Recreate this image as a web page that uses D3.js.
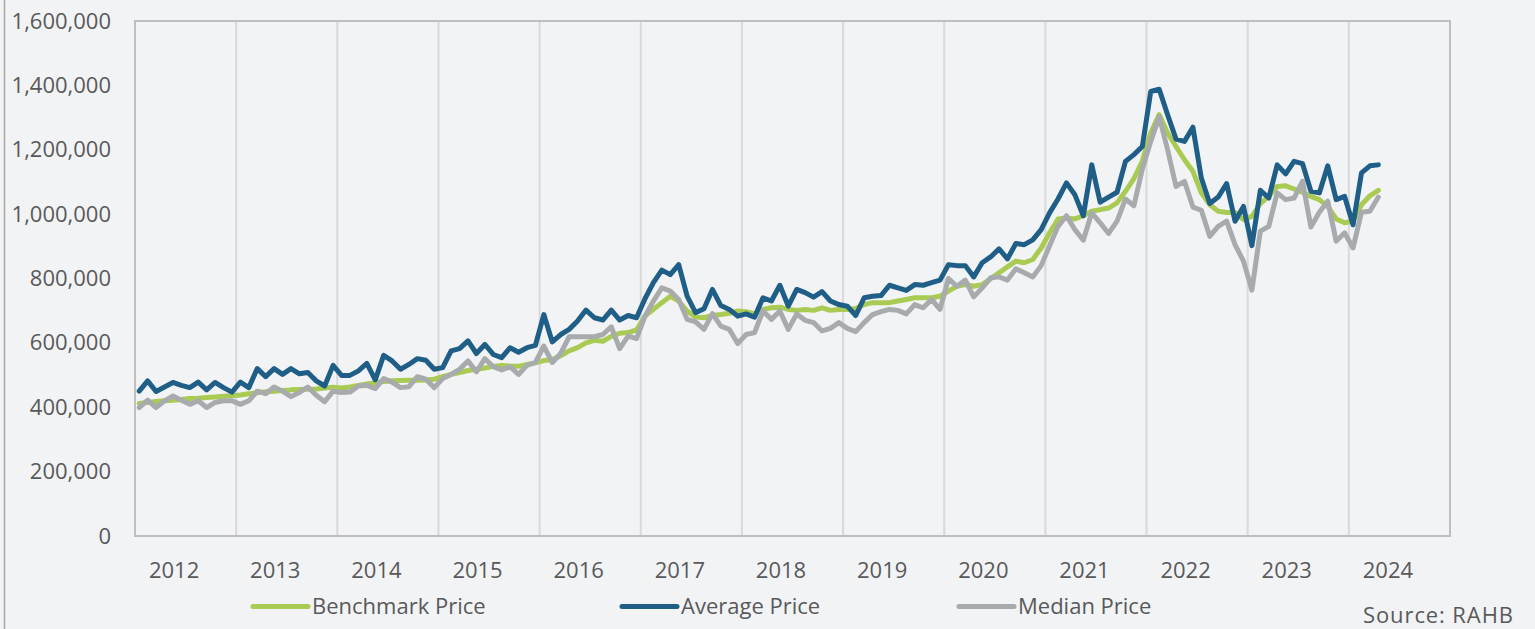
<!DOCTYPE html>
<html>
<head>
<meta charset="utf-8">
<script src="https://cdn.jsdelivr.net/npm/d3@7"></script>
<style>
  html, body { margin: 0; padding: 0; background: #F2F3F5; }
  svg { display: block; }
  text { font-family: "Open Sans", "Noto Sans", sans-serif; fill: #595959; }
</style>
</head>
<body>
<svg id="chart" width="1535" height="629"></svg>
<script>
// ---- data (monthly, Jan 2012 – Apr 2024), values in dollars / 1000 ----
const years = ["2012","2013","2014","2015","2016","2017","2018","2019","2020","2021","2022","2023","2024"];
const benchmark = [
  412,415,418,420,422,424,427,428,430,432,434,436,
  438,442,445,448,450,452,454,455,456,457,460,462,
  460,463,468,472,476,480,482,483,484,484,485,487,
  495,502,508,514,518,522,527,530,528,527,533,538,
  545,548,560,575,585,600,608,605,620,630,632,640,
  683,704,725,745,730,699,680,678,685,688,692,699,
  697,690,704,709,711,704,701,704,701,709,701,704,
  704,707,719,725,725,725,730,735,740,740,740,745,
  761,776,781,776,781,799,818,836,854,849,859,895,
  942,985,988,985,995,1009,1014,1019,1035,1071,1110,1165,
  1252,1309,1252,1210,1169,1133,1066,1029,1009,1005,1005,983,
  993,1033,1055,1086,1088,1078,1068,1055,1045,1024,985,973,
  978,1029,1057,1074
];
const average = [
  450,482,449,463,477,468,461,478,454,477,461,447,
  478,461,520,495,520,502,520,504,508,482,466,530,
  499,499,513,536,485,561,544,518,533,551,546,518,
  523,575,582,606,567,595,564,554,585,571,585,592,
  688,603,626,642,668,702,678,671,702,671,685,678,
  737,787,826,812,843,745,694,706,766,716,704,683,
  690,680,740,730,779,714,766,756,742,759,730,719,
  714,685,740,745,747,779,771,763,781,779,787,795,
  843,840,840,805,849,867,892,861,909,905,920,952,
  1004,1047,1097,1060,995,1153,1037,1053,1068,1164,1185,1210,
  1381,1388,1309,1233,1226,1270,1112,1033,1053,1095,978,1024,
  902,1074,1050,1153,1125,1164,1157,1071,1066,1150,1045,1055,
  967,1128,1150,1153
];
const median = [
  399,422,399,420,435,422,409,420,399,415,420,420,
  409,420,450,442,463,450,433,446,463,437,417,450,
  446,447,466,468,458,489,478,461,464,495,487,461,
  489,502,518,544,510,551,526,516,526,502,530,539,
  590,539,567,619,619,619,619,626,650,582,621,613,
  683,730,771,761,735,673,665,642,691,652,642,598,
  626,632,699,673,699,642,690,670,663,637,645,663,
  645,635,663,688,697,704,701,690,719,709,735,704,
  800,776,795,743,771,802,805,795,830,818,805,840,
  902,962,995,952,919,1004,973,940,978,1047,1026,1140,
  1226,1303,1200,1086,1102,1022,1012,931,962,978,905,854,
  764,947,962,1066,1045,1050,1102,960,1006,1040,916,942,
  895,1006,1009,1053
];
const yTicks = [0,200000,400000,600000,800000,1000000,1200000,1400000,1600000];
const seriesNames = ["Benchmark Price","Average Price","Median Price"];
const sourceText = "Source: RAHB";

// ---- layout ----
const W = 1535, H = 629;
const plot = { left: 135, right: 1450, top: 21, bottom: 536 };
const colors = { bench: "#A9CB53", avg: "#1F5E87", med: "#A8ABAD" };
const nMonths = years.length * 12;

const svg = d3.select("#chart");

const x = d3.scaleLinear().domain([0, nMonths]).range([plot.left, plot.right]);
const y = d3.scaleLinear().domain([0, 1600000]).range([plot.bottom, plot.top]);

// outer left frame line
svg.append("line").attr("x1", 4.5).attr("x2", 4.5).attr("y1", 0).attr("y2", H)
  .attr("stroke", "#A6A6A6").attr("stroke-width", 1.5);

// plot background
svg.append("rect").attr("x", plot.left).attr("y", plot.top)
  .attr("width", plot.right - plot.left).attr("height", plot.bottom - plot.top)
  .attr("fill", "#F2F3F5");

// year gridlines
const gridIdx = d3.range(1, years.length).map(k => k * 12);
svg.append("g").selectAll("line").data(gridIdx).join("line")
  .attr("x1", d => x(d)).attr("x2", d => x(d))
  .attr("y1", plot.top).attr("y2", plot.bottom)
  .attr("stroke", "#D9D9D9").attr("stroke-width", 2);

// plot border
svg.append("rect").attr("x", plot.left).attr("y", plot.top)
  .attr("width", plot.right - plot.left).attr("height", plot.bottom - plot.top)
  .attr("fill", "none").attr("stroke", "#BFBFBF").attr("stroke-width", 2);

// y axis
const yAxis = d3.axisLeft(y).tickValues(yTicks).tickFormat(d3.format(",")).tickSize(0).tickPadding(0);
const gy = svg.append("g").attr("transform", `translate(111,0)`).call(yAxis);
gy.select(".domain").remove();
gy.selectAll("text").style("font-size", "22px").attr("fill", "#595959")
  .style("font-family", '"Open Sans", sans-serif');

// x axis (year labels)
const yearCenters = years.map((_, k) => k * 12 + 6);
const xAxis = d3.axisBottom(x).tickValues(yearCenters).tickFormat((d, i) => years[i]).tickSize(0).tickPadding(0);
const gx = svg.append("g").attr("transform", `translate(-12,562)`).call(xAxis);
gx.select(".domain").remove();
gx.selectAll("text").style("font-size", "22px").attr("fill", "#595959")
  .style("font-family", '"Open Sans", sans-serif');

// lines
const line = d3.line().x((d, i) => x(i + 0.5)).y(d => y(d * 1000)).curve(d3.curveLinear);
const drawSeries = (data, color) => svg.append("path").datum(data)
  .attr("d", line).attr("fill", "none").attr("stroke", color)
  .attr("stroke-width", 5).attr("stroke-linejoin", "round").attr("stroke-linecap", "round");
drawSeries(benchmark, colors.bench);
drawSeries(median, colors.med);
drawSeries(average, colors.avg);

// legend
const legendItems = [
  { name: seriesNames[0], color: colors.bench, x: 253 },
  { name: seriesNames[1], color: colors.avg, x: 622 },
  { name: seriesNames[2], color: colors.med, x: 959 }
];
const lg = svg.append("g");
legendItems.forEach(it => {
  lg.append("line").attr("x1", it.x).attr("x2", it.x + 55).attr("y1", 606.5).attr("y2", 606.5)
    .attr("stroke", it.color).attr("stroke-width", 5).attr("stroke-linecap", "round");
  lg.append("text").attr("x", it.x + 59).attr("y", 614).style("font-size", "22px").text(it.name);
});

// source
svg.append("text").attr("x", 1363).attr("y", 623).style("font-size", "22px")
  .style("letter-spacing", "0.9px").text(sourceText);
</script>
</body>
</html>
